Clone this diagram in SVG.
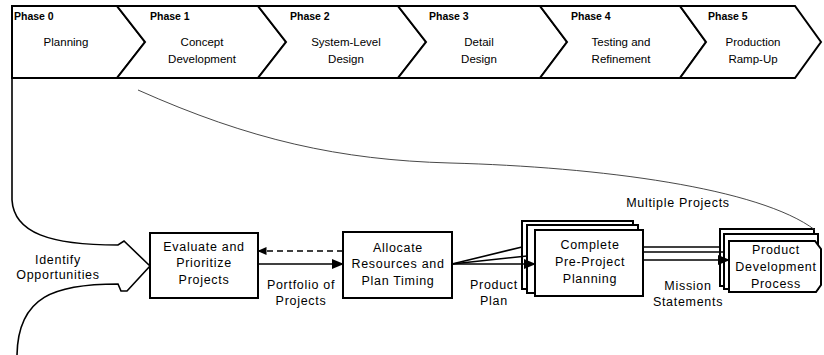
<svg xmlns="http://www.w3.org/2000/svg" width="824" height="355" viewBox="0 0 824 355">
  <style>
    .band { fill: #fff; stroke: #000; stroke-width: 2; stroke-linejoin: miter; }
    .ph { font-family: "Liberation Sans", Arial, sans-serif; font-size: 10.5px; font-weight: bold; fill: #000; }
    .bt { font-family: "Liberation Sans", Arial, sans-serif; font-size: 11.5px; fill: #000; text-anchor: middle; }
    .box { fill: #fff; stroke: #000; stroke-width: 2; }
    .lbl { font-family: "Liberation Sans", Arial, sans-serif; font-size: 12.5px; letter-spacing: 0.7px; fill: #000; text-anchor: middle; }
    .ln { fill: none; stroke: #000; stroke-width: 1.6; }
    .thin { fill: none; stroke: #333; stroke-width: 0.9; }
  </style>
  <defs>
    <marker id="arr" markerWidth="12" markerHeight="10" refX="11" refY="5" orient="auto" markerUnits="userSpaceOnUse">
      <path d="M0,0 L12,5 L0,10 Z" fill="#000"/>
    </marker>
    <marker id="arrSmall" markerWidth="9" markerHeight="8" refX="8.5" refY="4" orient="auto" markerUnits="userSpaceOnUse">
      <path d="M0,0 L9,4 L0,8 Z" fill="#000"/>
    </marker>
  </defs>
  <rect width="824" height="355" fill="#fff"/>

  <!-- Phase band -->
  <g id="phase0">
    <path class="band" d="M12,6 L117,6 L145,42 L117,78 L12,78 Z"/>
    <text class="ph" x="14" y="20">Phase 0</text>
    <text class="bt" x="66" y="46">Planning</text>
  </g>
  <g id="phase1">
    <path class="band" d="M117,6 L258,6 L286,42 L258,78 L117,78 L145,42 Z"/>
    <text class="ph" x="150" y="20">Phase 1</text>
    <text class="bt" x="202" y="46">Concept</text>
    <text class="bt" x="202" y="63">Development</text>
  </g>
  <g id="phase2">
    <path class="band" d="M258,6 L398,6 L426,42 L398,78 L258,78 L286,42 Z"/>
    <text class="ph" x="290" y="20">Phase 2</text>
    <text class="bt" x="346" y="46">System-Level</text>
    <text class="bt" x="346" y="63">Design</text>
  </g>
  <g id="phase3">
    <path class="band" d="M398,6 L540,6 L567,42 L540,78 L398,78 L426,42 Z"/>
    <text class="ph" x="429" y="20">Phase 3</text>
    <text class="bt" x="479" y="46">Detail</text>
    <text class="bt" x="479" y="63">Design</text>
  </g>
  <g id="phase4">
    <path class="band" d="M540,6 L680,6 L706,42 L680,78 L540,78 L567,42 Z"/>
    <text class="ph" x="571" y="20">Phase 4</text>
    <text class="bt" x="621" y="46">Testing and</text>
    <text class="bt" x="621" y="63">Refinement</text>
  </g>
  <g id="phase5">
    <path class="band" d="M680,6 L795,6 L821,42 L795,78 L680,78 L706,42 Z"/>
    <text class="ph" x="708" y="20">Phase 5</text>
    <text class="bt" x="753" y="46">Production</text>
    <text class="bt" x="753" y="63">Ramp-Up</text>
  </g>

  <!-- Identify Opportunities inflow -->
  <g id="identify">
    <path class="ln" d="M12,78 L12,200 C14,233 50,245 118,245 L124,241 L150,266 L127,291 L121,291 L118,284 C55,284 18,296 17,355"/>
    <text class="lbl" x="58" y="264">Identify</text>
    <text class="lbl" x="58" y="279">Opportunities</text>
  </g>

  <!-- Nodes -->
  <g id="evaluate">
    <rect class="box" x="150" y="233" width="108" height="65"/>
    <text class="lbl" x="204" y="251">Evaluate and</text>
    <text class="lbl" x="204" y="267">Prioritize</text>
    <text class="lbl" x="204" y="284">Projects</text>
  </g>
  <g id="allocate">
    <rect class="box" x="343" y="232" width="109" height="66"/>
    <text class="lbl" x="398" y="252">Allocate</text>
    <text class="lbl" x="398" y="268">Resources and</text>
    <text class="lbl" x="398" y="285">Plan Timing</text>
  </g>
  <g id="preproject">
    <rect class="box" x="522" y="221" width="111" height="68"/>
    <rect class="box" x="527" y="225" width="111" height="68"/>
    <rect class="box" x="535" y="230" width="108" height="66"/>
    <text class="lbl" x="590" y="249">Complete</text>
    <text class="lbl" x="590" y="266">Pre-Project</text>
    <text class="lbl" x="590" y="283">Planning</text>
  </g>
  <g id="pdp">
    <rect class="box" x="720" y="229" width="94" height="57"/>
    <rect class="box" x="724" y="234" width="94" height="55"/>
    <path class="box" d="M729,241 L815,241 L821,249 L821,285 L816,292 L729,292 Z"/>
    <text class="lbl" x="776" y="254">Product</text>
    <text class="lbl" x="776" y="271">Development</text>
    <text class="lbl" x="776" y="288">Process</text>
  </g>

  <!-- Connectors -->
  <g id="connectors">
    <path class="ln" d="M258,264 L343,264" marker-end="url(#arr)"/>
    <path class="ln" d="M343,251 L258,251" stroke-dasharray="6,4" marker-end="url(#arrSmall)"/>
    <path class="ln" d="M452,264 L522,247"/>
    <path class="ln" d="M452,264 L527,256"/>
    <path class="ln" d="M452,264 L535,264" marker-end="url(#arr)"/>
    <path class="ln" d="M643,247 L720,247"/>
    <path class="ln" d="M643,252 L724,252"/>
    <path class="ln" d="M643,260 L729,260" marker-end="url(#arr)"/>
    <path class="thin" d="M138,90 C250,140 340,160 450,163 C600,167 760,188 815,230"/>
  </g>

  <!-- Flow labels -->
  <g id="labels">
    <text class="lbl" x="301" y="289">Portfolio of</text>
    <text class="lbl" x="301" y="305">Projects</text>
    <text class="lbl" x="494" y="289">Product</text>
    <text class="lbl" x="494" y="305">Plan</text>
    <text class="lbl" x="688" y="290">Mission</text>
    <text class="lbl" x="688" y="306">Statements</text>
    <text class="lbl" x="678" y="207">Multiple Projects</text>
  </g>
</svg>
